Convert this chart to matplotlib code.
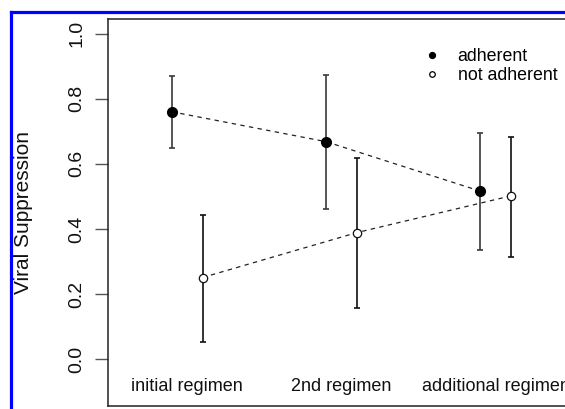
import matplotlib
matplotlib.use("Agg")
import matplotlib.pyplot as plt
from matplotlib.lines import Line2D

plt.rcParams['font.family'] = ['Liberation Sans', 'DejaVu Sans']

categories = ["initial regimen", "2nd regimen", "additional regimen"]
adherent = [0.760, 0.668, 0.516]
adherent_lo = [0.649, 0.461, 0.336]
adherent_hi = [0.870, 0.872, 0.696]
not_adherent = [0.251, 0.389, 0.502]
not_adherent_lo = [0.052, 0.156, 0.315]
not_adherent_hi = [0.443, 0.618, 0.683]
yticks = [0.0, 0.2, 0.4, 0.6, 0.8, 1.0]
ytick_labels = ["0.0", "0.2", "0.4", "0.6", "0.8", "1.0"]

W, H = 565, 409
fig = plt.figure(figsize=(W / 100, H / 100), dpi=100)
ax = fig.add_axes([108 / W, 2.8 / H, 467 / W, 387 / H])

pos = list(range(1, len(categories) + 1))
xa = [p - 0.1 for p in pos]
xn = [p + 0.1 for p in pos]

# dashed connecting lines
ax.plot(xa, adherent, linestyle=(0, (3.5, 3.5)), color='#222222', lw=0.9, zorder=2)
ax.plot(xn, not_adherent, linestyle=(0, (3.5, 3.5)), color='#222222', lw=0.9, zorder=2)

# error bars
ea = [[v - l for v, l in zip(adherent, adherent_lo)], [h - v for v, h in zip(adherent, adherent_hi)]]
en = [[v - l for v, l in zip(not_adherent, not_adherent_lo)], [h - v for v, h in zip(not_adherent, not_adherent_hi)]]
ax.errorbar(xa, adherent, yerr=ea, fmt='none', ecolor='#3a3a3a', elinewidth=1.2, capsize=2.4, capthick=1.2, zorder=3)
ax.errorbar(xn, not_adherent, yerr=en, fmt='none', ecolor='#111111', elinewidth=1.2, capsize=2.4, capthick=1.2, zorder=3)

ax.plot(xa, adherent, 'o', color='black', markersize=7.0, linestyle='none', zorder=4)
ax.plot(xn, not_adherent, 'o', markerfacecolor='white', markeredgecolor='#111111',
        markeredgewidth=0.9, markersize=6.0, linestyle='none', zorder=4)

# category labels inside the plot
for p, c in zip(pos, categories):
    ax.text(p, -0.082, c, ha='center', va='center', fontsize=13, color='#111111', clip_on=False)

ax.set_xlim(0.488, 3.512)
ax.set_ylim(-0.144, 1.044)
ax.set_xticks([])
ax.set_yticks(yticks)
ax.set_yticklabels(ytick_labels, rotation=90, va='center', fontsize=14, color='#111111')
ax.tick_params(axis='y', length=9.4, width=1.0, color='#555555', pad=7)
ax.set_ylabel("Viral Suppression", fontsize=15, color='#111111')
ax.yaxis.set_label_coords(-0.161, 0.5)

for s in ['left', 'top', 'bottom']:
    ax.spines[s].set_color('#222222')
    ax.spines[s].set_linewidth(1.1)
ax.spines['right'].set_visible(False)

# legend
h1 = Line2D([], [], marker='o', color='black', linestyle='none', markersize=4.2)
h2 = Line2D([], [], marker='o', markerfacecolor='white', markeredgecolor='black',
            markeredgewidth=0.9, linestyle='none', markersize=4.0)
leg = ax.legend([h1, h2], ["adherent", "not adherent"], loc='upper left',
                bbox_to_anchor=((423 - 108) / 467, (406.2 - 48) / 387), frameon=False,
                fontsize=12.8, handlelength=1.0, handletextpad=0.95, labelspacing=0.12,
                borderpad=0, borderaxespad=0)

# blue border of the cropped figure
fig.add_artist(Line2D([11 / W, 11 / W], [0, 1 - 12 / H], color='#0000ff', lw=2.3, transform=fig.transFigure))
fig.add_artist(Line2D([11 / W, 1], [1 - 12 / H, 1 - 12 / H], color='#0000ff', lw=2.3, transform=fig.transFigure))

fig.savefig("out.png", dpi=100)
